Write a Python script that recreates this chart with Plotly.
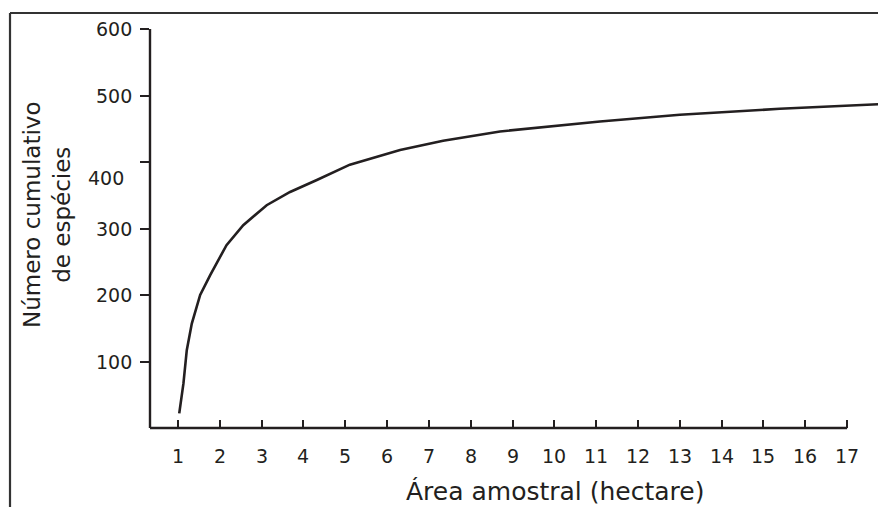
import plotly.graph_objects as go

# ---- data ----
area_ha = [1.03, 1.13, 1.21, 1.33, 1.53, 1.77, 2.16, 2.56, 3.12, 3.68, 4.32,
           5.11, 6.31, 7.34, 8.70, 9.90, 11.09, 13.0, 15.39, 17.75]
cum_species = [22, 67, 117, 157, 200, 230, 275, 305, 335, 355, 373,
               396, 418, 432, 446, 454, 461, 471, 480, 487]

x_ticks = list(range(1, 18))
y_ticks = [100, 200, 300, 400, 500, 600]
y_tick_labels = ["100", "200", "300", "400", "500", "600"]

x_title = "Área amostral (hectare)"
y_title = "Número cumulativo<br>de espécies"

X_RANGE = [0.3305, 17.738]
Y_RANGE = [0, 624.1]

INK = "#231f20"
FONT = "DejaVu Sans"


def xp(v):
    return (v - X_RANGE[0]) / (X_RANGE[1] - X_RANGE[0])


def yp(v):
    return (v - Y_RANGE[0]) / (Y_RANGE[1] - Y_RANGE[0])


fig = go.Figure()
fig.add_trace(go.Scatter(x=area_ha, y=cum_species, mode="lines",
                         line=dict(color=INK, width=2.6), hoverinfo="skip"))

annotations = []
for v, t in zip(y_ticks, y_tick_labels):
    xs, ys = -16, 0
    if t == "400":
        xs, ys = -24, -16
    annotations.append(dict(text=t, xref="paper", x=0, yref="y", y=v,
                            xanchor="right", yanchor="middle", showarrow=False,
                            xshift=xs, yshift=ys,
                            font=dict(family=FONT, size=19, color=INK)))
for v in x_ticks:
    annotations.append(dict(text=str(v), xref="x", x=v, yref="paper", y=0,
                            xanchor="center", yanchor="middle", showarrow=False,
                            yshift=-28, font=dict(family=FONT, size=19, color=INK)))

annotations.append(dict(text=x_title, xref="paper", x=0.557, yref="paper", y=-0.154,
                        xanchor="center", yanchor="middle", showarrow=False,
                        font=dict(family=FONT, size=25, color=INK)))
annotations.append(dict(text=y_title, xref="paper", x=-0.1415, yref="paper", y=0.5133,
                        xanchor="center", yanchor="middle", showarrow=False,
                        textangle=-90, align="center",
                        font=dict(family=FONT, size=23, color=INK)))

shapes = [
    # x axis line (ends at 17)
    dict(type="line", xref="paper", yref="paper", x0=0, x1=xp(17), y0=0, y1=0,
         line=dict(color=INK, width=2.4)),
    # y axis line (ends at 600)
    dict(type="line", xref="paper", yref="paper", x0=0, x1=0, y0=0, y1=yp(600),
         line=dict(color=INK, width=2.4)),
    # outer frame (top and left edges)
    dict(type="line", xref="paper", yref="paper", x0=-0.1923, x1=1.1, y0=1, y1=1,
         line=dict(color="#333333", width=2.2)),
    dict(type="line", xref="paper", yref="paper", x0=-0.1923, x1=-0.1923, y0=1, y1=-0.3,
         line=dict(color="#333333", width=2.2)),
]

fig.update_layout(
    width=878, height=507,
    margin=dict(l=150, r=0, t=13, b=79),
    paper_bgcolor="white", plot_bgcolor="white",
    showlegend=False,
    annotations=annotations,
    shapes=shapes,
    xaxis=dict(range=X_RANGE, tickvals=x_ticks, ticks="inside", ticklen=8,
               tickwidth=2, tickcolor=INK, showticklabels=False,
               showgrid=False, zeroline=False, showline=False, fixedrange=True),
    yaxis=dict(range=Y_RANGE, tickvals=y_ticks, ticks="outside", ticklen=9,
               tickwidth=2, tickcolor=INK, showticklabels=False,
               showgrid=False, zeroline=False, showline=False, fixedrange=True),
)

fig.write_html("out.html", config={"displayModeBar": False},
               post_script="document.body.style.margin='0';document.body.style.overflow='hidden';")
